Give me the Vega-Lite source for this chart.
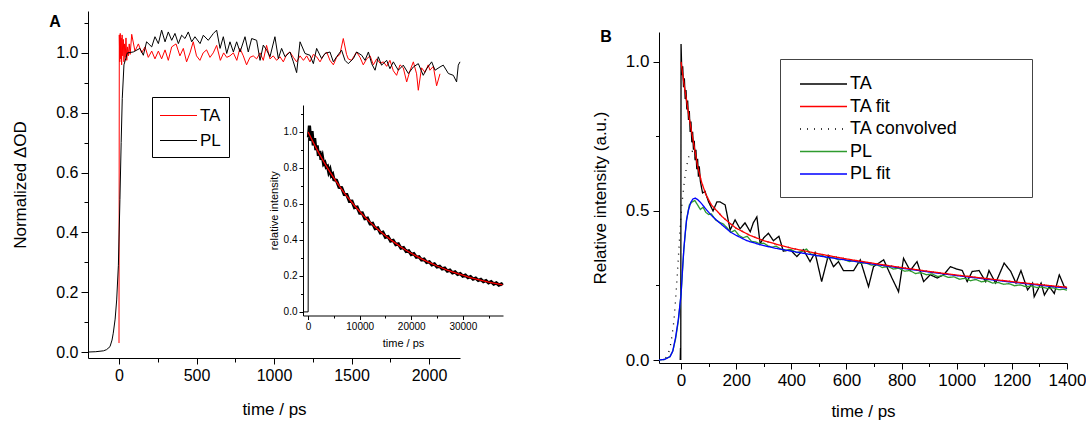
{
"$schema": "https://vega.github.io/schema/vega-lite/v6.json",
"width": 1086, "height": 421, "padding": 0, "autosize": {"type": "none"},
"background": "white",
"config": {
 "view": {"stroke": null},
 "font": "Liberation Sans",
 "axis": {"grid": false, "domainColor": "#000", "tickColor": "#000", "labelColor": "#000", "titleColor": "#000", "labelFont": "Liberation Sans", "titleFont": "Liberation Sans", "titleFontWeight": "normal", "labelOverlap": false, "labelFlush": false, "domainWidth": 1, "tickWidth": 1},
 "legend": {"labelFont": "Liberation Sans", "labelColor": "#000", "fillColor": "white"}
},
"datasets": {
 "pa": [
{"s":"TA","t":0,"v":0.03},{"s":"TA","t":2,"v":1.06},{"s":"TA","t":5,"v":0.97},{"s":"TA","t":8,"v":1.065},{"s":"TA","t":11,"v":0.98},{"s":"TA","t":14,"v":1.05},{"s":"TA","t":17,"v":0.96},{"s":"TA","t":20,"v":1.06},{"s":"TA","t":24,"v":0.99},{"s":"TA","t":28,"v":1.045},{"s":"TA","t":32,"v":0.97},{"s":"TA","t":36,"v":1.03},{"s":"TA","t":40,"v":0.985},{"s":"TA","t":45,"v":1.05},{"s":"TA","t":50,"v":0.975},{"s":"TA","t":55,"v":1.02},{"s":"TA","t":60,"v":0.99},{"s":"TA","t":66,"v":1.03},{"s":"TA","t":72,"v":0.995},{"s":"TA","t":82,"v":1.062},{"s":"TA","t":103,"v":1.006},{"s":"TA","t":125,"v":1.03},{"s":"TA","t":146,"v":1.0},{"s":"TA","t":168,"v":1.02},{"s":"TA","t":189,"v":0.985},{"s":"TA","t":211,"v":1.006},{"s":"TA","t":232,"v":0.98},{"s":"TA","t":254,"v":1.006},{"s":"TA","t":275,"v":0.98},{"s":"TA","t":297,"v":1.01},{"s":"TA","t":318,"v":0.975},{"s":"TA","t":340,"v":1.02},{"s":"TA","t":368,"v":1.03},{"s":"TA","t":393,"v":0.99},{"s":"TA","t":415,"v":1.015},{"s":"TA","t":436,"v":0.97},{"s":"TA","t":458,"v":1.0},{"s":"TA","t":479,"v":1.037},{"s":"TA","t":500,"v":0.99},{"s":"TA","t":522,"v":0.975},{"s":"TA","t":543,"v":1.0},{"s":"TA","t":565,"v":1.01},{"s":"TA","t":587,"v":0.985},{"s":"TA","t":608,"v":1.0},{"s":"TA","t":630,"v":1.025},{"s":"TA","t":654,"v":0.975},{"s":"TA","t":675,"v":1.0},{"s":"TA","t":695,"v":0.985},{"s":"TA","t":716,"v":0.99},{"s":"TA","t":738,"v":1.0},{"s":"TA","t":760,"v":0.975},{"s":"TA","t":780,"v":1.015},{"s":"TA","t":802,"v":0.99},{"s":"TA","t":823,"v":0.96},{"s":"TA","t":845,"v":0.985},{"s":"TA","t":866,"v":0.99},{"s":"TA","t":888,"v":0.98},{"s":"TA","t":910,"v":1.0},{"s":"TA","t":931,"v":0.975},{"s":"TA","t":952,"v":1.025},{"s":"TA","t":974,"v":0.98},{"s":"TA","t":995,"v":0.99},{"s":"TA","t":1017,"v":0.975},{"s":"TA","t":1039,"v":0.987},{"s":"TA","t":1060,"v":0.97},{"s":"TA","t":1082,"v":0.995},{"s":"TA","t":1103,"v":1.003},{"s":"TA","t":1125,"v":0.985},{"s":"TA","t":1146,"v":0.97},{"s":"TA","t":1168,"v":0.99},{"s":"TA","t":1190,"v":0.975},{"s":"TA","t":1211,"v":0.99},{"s":"TA","t":1232,"v":0.97},{"s":"TA","t":1254,"v":0.995},{"s":"TA","t":1275,"v":0.987},{"s":"TA","t":1297,"v":0.97},{"s":"TA","t":1318,"v":0.99},{"s":"TA","t":1340,"v":1.003},{"s":"TA","t":1361,"v":0.975},{"s":"TA","t":1383,"v":0.96},{"s":"TA","t":1404,"v":0.985},{"s":"TA","t":1425,"v":0.995},{"s":"TA","t":1447,"v":1.048},{"s":"TA","t":1468,"v":0.995},{"s":"TA","t":1479,"v":0.98},{"s":"TA","t":1500,"v":0.975},{"s":"TA","t":1533,"v":1.003},{"s":"TA","t":1555,"v":0.985},{"s":"TA","t":1576,"v":0.96},{"s":"TA","t":1598,"v":0.98},{"s":"TA","t":1620,"v":0.99},{"s":"TA","t":1641,"v":0.96},{"s":"TA","t":1663,"v":0.98},{"s":"TA","t":1685,"v":0.965},{"s":"TA","t":1706,"v":0.97},{"s":"TA","t":1727,"v":0.955},{"s":"TA","t":1748,"v":0.975},{"s":"TA","t":1770,"v":0.94},{"s":"TA","t":1791,"v":0.925},{"s":"TA","t":1813,"v":0.96},{"s":"TA","t":1834,"v":0.95},{"s":"TA","t":1856,"v":0.903},{"s":"TA","t":1877,"v":0.94},{"s":"TA","t":1899,"v":0.97},{"s":"TA","t":1920,"v":0.93},{"s":"TA","t":1931,"v":0.875},{"s":"TA","t":1952,"v":0.95},{"s":"TA","t":1974,"v":0.935},{"s":"TA","t":1995,"v":0.96},{"s":"TA","t":2006,"v":0.942},{"s":"TA","t":2028,"v":0.955},{"s":"TA","t":2049,"v":0.89},{"s":"TA","t":2071,"v":0.93},
{"s":"PL","t":-200,"v":0.0},{"s":"PL","t":-150,"v":0.001},{"s":"PL","t":-100,"v":0.004},{"s":"PL","t":-80,"v":0.008},{"s":"PL","t":-58,"v":0.018},{"s":"PL","t":-45,"v":0.04},{"s":"PL","t":-37,"v":0.063},{"s":"PL","t":-25,"v":0.11},{"s":"PL","t":-15,"v":0.174},{"s":"PL","t":-4,"v":0.29},{"s":"PL","t":6,"v":0.51},{"s":"PL","t":14,"v":0.7},{"s":"PL","t":21,"v":0.847},{"s":"PL","t":32,"v":0.96},{"s":"PL","t":54,"v":1.0},{"s":"PL","t":92,"v":1.003},{"s":"PL","t":135,"v":1.015},{"s":"PL","t":157,"v":0.992},{"s":"PL","t":178,"v":1.037},{"s":"PL","t":211,"v":1.02},{"s":"PL","t":232,"v":1.054},{"s":"PL","t":254,"v":1.031},{"s":"PL","t":275,"v":1.076},{"s":"PL","t":297,"v":1.037},{"s":"PL","t":318,"v":1.07},{"s":"PL","t":340,"v":1.042},{"s":"PL","t":361,"v":1.065},{"s":"PL","t":383,"v":1.031},{"s":"PL","t":404,"v":1.059},{"s":"PL","t":426,"v":1.048},{"s":"PL","t":447,"v":1.07},{"s":"PL","t":469,"v":1.037},{"s":"PL","t":490,"v":1.054},{"s":"PL","t":523,"v":1.031},{"s":"PL","t":544,"v":1.059},{"s":"PL","t":576,"v":1.042},{"s":"PL","t":609,"v":1.065},{"s":"PL","t":630,"v":1.076},{"s":"PL","t":652,"v":1.015},{"s":"PL","t":673,"v":1.054},{"s":"PL","t":695,"v":0.998},{"s":"PL","t":716,"v":1.037},{"s":"PL","t":738,"v":1.003},{"s":"PL","t":759,"v":1.037},{"s":"PL","t":781,"v":1.003},{"s":"PL","t":813,"v":1.054},{"s":"PL","t":834,"v":1.003},{"s":"PL","t":856,"v":1.048},{"s":"PL","t":888,"v":1.042},{"s":"PL","t":910,"v":0.975},{"s":"PL","t":931,"v":1.026},{"s":"PL","t":953,"v":1.009},{"s":"PL","t":974,"v":0.987},{"s":"PL","t":1006,"v":1.054},{"s":"PL","t":1028,"v":0.981},{"s":"PL","t":1049,"v":1.015},{"s":"PL","t":1071,"v":0.987},{"s":"PL","t":1103,"v":1.003},{"s":"PL","t":1125,"v":0.97},{"s":"PL","t":1146,"v":0.934},{"s":"PL","t":1168,"v":1.037},{"s":"PL","t":1200,"v":0.998},{"s":"PL","t":1232,"v":0.992},{"s":"PL","t":1254,"v":0.964},{"s":"PL","t":1275,"v":1.015},{"s":"PL","t":1307,"v":0.981},{"s":"PL","t":1329,"v":0.998},{"s":"PL","t":1361,"v":1.003},{"s":"PL","t":1383,"v":0.97},{"s":"PL","t":1404,"v":0.987},{"s":"PL","t":1436,"v":1.009},{"s":"PL","t":1458,"v":0.975},{"s":"PL","t":1479,"v":0.964},{"s":"PL","t":1512,"v":0.981},{"s":"PL","t":1533,"v":1.003},{"s":"PL","t":1566,"v":0.992},{"s":"PL","t":1587,"v":0.975},{"s":"PL","t":1609,"v":1.003},{"s":"PL","t":1630,"v":0.964},{"s":"PL","t":1652,"v":0.942},{"s":"PL","t":1673,"v":0.987},{"s":"PL","t":1694,"v":0.959},{"s":"PL","t":1727,"v":0.975},{"s":"PL","t":1748,"v":0.947},{"s":"PL","t":1770,"v":0.97},{"s":"PL","t":1802,"v":0.942},{"s":"PL","t":1834,"v":0.959},{"s":"PL","t":1867,"v":0.931},{"s":"PL","t":1899,"v":0.953},{"s":"PL","t":1931,"v":0.964},{"s":"PL","t":1963,"v":0.925},{"s":"PL","t":1985,"v":0.947},{"s":"PL","t":2017,"v":0.97},{"s":"PL","t":2039,"v":0.942},{"s":"PL","t":2071,"v":0.953},{"s":"PL","t":2092,"v":0.959},{"s":"PL","t":2125,"v":0.931},{"s":"PL","t":2157,"v":0.925},{"s":"PL","t":2178,"v":0.903},{"s":"PL","t":2189,"v":0.959},{"s":"PL","t":2200,"v":0.97}
 ],
 "irise": [{"t":-800,"v":0.0},{"t":0,"v":0.0},{"t":60,"v":0.97}],
 "inoisy": [
{"t":60,"v":0.97},{"t":250,"v":1.035},{"t":500,"v":0.95},{"t":750,"v":1.005},{"t":1000,"v":0.925},{"t":1250,"v":0.965},{"t":1500,"v":0.9},{"t":1750,"v":0.925},{"t":2000,"v":0.867},{"t":2250,"v":0.895},{"t":2500,"v":0.846},{"t":2750,"v":0.866},{"t":3000,"v":0.822},{"t":3250,"v":0.83},{"t":3500,"v":0.805},{"t":3750,"v":0.81},{"t":4000,"v":0.776},{"t":4250,"v":0.792},{"t":4500,"v":0.758},{"t":4750,"v":0.766},{"t":5000,"v":0.735},{"t":5500,"v":0.731},{"t":6000,"v":0.692},{"t":6500,"v":0.69},{"t":7000,"v":0.653},{"t":7500,"v":0.652},{"t":8000,"v":0.615},{"t":8500,"v":0.616},{"t":9000,"v":0.58},{"t":9500,"v":0.583},{"t":10000,"v":0.549},{"t":10500,"v":0.55},{"t":11000,"v":0.518},{"t":11500,"v":0.521},{"t":12000,"v":0.49},{"t":12500,"v":0.493},{"t":13000,"v":0.463},{"t":13500,"v":0.467},{"t":14000,"v":0.439},{"t":14500,"v":0.443},{"t":15000,"v":0.415},{"t":15500,"v":0.419},{"t":16000,"v":0.394},{"t":16500,"v":0.398},{"t":17000,"v":0.374},{"t":17500,"v":0.378},{"t":18000,"v":0.354},{"t":18500,"v":0.358},{"t":19000,"v":0.336},{"t":19500,"v":0.34},{"t":20000,"v":0.319},{"t":20500,"v":0.324},{"t":21000,"v":0.304},{"t":21500,"v":0.307},{"t":22000,"v":0.289},{"t":22500,"v":0.293},{"t":23000,"v":0.275},{"t":23500,"v":0.279},{"t":24000,"v":0.262},{"t":24500,"v":0.267},{"t":25000,"v":0.25},{"t":25500,"v":0.254},{"t":26000,"v":0.239},{"t":26500,"v":0.243},{"t":27000,"v":0.227},{"t":27500,"v":0.232},{"t":28000,"v":0.217},{"t":28500,"v":0.222},{"t":29000,"v":0.208},{"t":29500,"v":0.213},{"t":30000,"v":0.199},{"t":30500,"v":0.204},{"t":31000,"v":0.19},{"t":31500,"v":0.196},{"t":32000,"v":0.182},{"t":32500,"v":0.188},{"t":33000,"v":0.175},{"t":33500,"v":0.181},{"t":34000,"v":0.168},{"t":34500,"v":0.174},{"t":35000,"v":0.161},{"t":35500,"v":0.168},{"t":36000,"v":0.155},{"t":36500,"v":0.161},{"t":37000,"v":0.149},{"t":37500,"v":0.155},{"t":37700,"v":0.148}
 ],
 "ifit": [
{"t":0,"v":1.0},{"t":1000,"v":0.942},{"t":2000,"v":0.887},{"t":3000,"v":0.836},{"t":4000,"v":0.788},{"t":5000,"v":0.744},{"t":6000,"v":0.702},{"t":7000,"v":0.662},{"t":8000,"v":0.625},{"t":9000,"v":0.59},{"t":10000,"v":0.558},{"t":11000,"v":0.527},{"t":12000,"v":0.499},{"t":13000,"v":0.472},{"t":14000,"v":0.447},{"t":15000,"v":0.423},{"t":16000,"v":0.401},{"t":17000,"v":0.381},{"t":18000,"v":0.361},{"t":19000,"v":0.343},{"t":20000,"v":0.326},{"t":21000,"v":0.31},{"t":22000,"v":0.295},{"t":23000,"v":0.281},{"t":24000,"v":0.268},{"t":25000,"v":0.255},{"t":26000,"v":0.244},{"t":27000,"v":0.232},{"t":28000,"v":0.222},{"t":29000,"v":0.213},{"t":30000,"v":0.204},{"t":31000,"v":0.195},{"t":32000,"v":0.187},{"t":33000,"v":0.18},{"t":34000,"v":0.173},{"t":35000,"v":0.166},{"t":36000,"v":0.16},{"t":37000,"v":0.154},{"t":37700,"v":0.15}
 ],
 "pb": [
{"s":"TA","t":-3,"v":0.0},{"s":"TA","t":-2,"v":0.04},{"s":"TA","t":-1,"v":0.0},{"s":"TA","t":0,"v":1.06},{"s":"TA","t":3,"v":0.955},{"s":"TA","t":6,"v":0.985},{"s":"TA","t":9,"v":0.915},{"s":"TA","t":12,"v":0.945},{"s":"TA","t":15,"v":0.875},{"s":"TA","t":18,"v":0.905},{"s":"TA","t":21,"v":0.84},{"s":"TA","t":24,"v":0.87},{"s":"TA","t":27,"v":0.805},{"s":"TA","t":30,"v":0.835},{"s":"TA","t":33,"v":0.765},{"s":"TA","t":36,"v":0.8},{"s":"TA","t":39,"v":0.73},{"s":"TA","t":42,"v":0.765},{"s":"TA","t":45,"v":0.705},{"s":"TA","t":48,"v":0.735},{"s":"TA","t":51,"v":0.67},{"s":"TA","t":54,"v":0.705},{"s":"TA","t":57,"v":0.64},{"s":"TA","t":60,"v":0.675},{"s":"TA","t":63,"v":0.615},{"s":"TA","t":66,"v":0.65},{"s":"TA","t":70,"v":0.6},{"s":"TA","t":78,"v":0.56},{"s":"TA","t":87,"v":0.565},{"s":"TA","t":100,"v":0.53},{"s":"TA","t":116,"v":0.5},{"s":"TA","t":130,"v":0.53},{"s":"TA","t":142,"v":0.53},{"s":"TA","t":160,"v":0.52},{"s":"TA","t":178,"v":0.436},{"s":"TA","t":196,"v":0.47},{"s":"TA","t":214,"v":0.44},{"s":"TA","t":232,"v":0.46},{"s":"TA","t":251,"v":0.43},{"s":"TA","t":262,"v":0.46},{"s":"TA","t":275,"v":0.48},{"s":"TA","t":287,"v":0.39},{"s":"TA","t":300,"v":0.41},{"s":"TA","t":317,"v":0.425},{"s":"TA","t":335,"v":0.4},{"s":"TA","t":355,"v":0.415},{"s":"TA","t":371,"v":0.365},{"s":"TA","t":396,"v":0.37},{"s":"TA","t":420,"v":0.347},{"s":"TA","t":444,"v":0.37},{"s":"TA","t":468,"v":0.33},{"s":"TA","t":486,"v":0.36},{"s":"TA","t":510,"v":0.263},{"s":"TA","t":534,"v":0.35},{"s":"TA","t":553,"v":0.313},{"s":"TA","t":571,"v":0.33},{"s":"TA","t":589,"v":0.3},{"s":"TA","t":626,"v":0.3},{"s":"TA","t":650,"v":0.336},{"s":"TA","t":680,"v":0.246},{"s":"TA","t":698,"v":0.313},{"s":"TA","t":735,"v":0.336},{"s":"TA","t":765,"v":0.275},{"s":"TA","t":789,"v":0.229},{"s":"TA","t":807,"v":0.341},{"s":"TA","t":831,"v":0.3},{"s":"TA","t":856,"v":0.33},{"s":"TA","t":880,"v":0.263},{"s":"TA","t":904,"v":0.286},{"s":"TA","t":929,"v":0.275},{"s":"TA","t":953,"v":0.286},{"s":"TA","t":977,"v":0.313},{"s":"TA","t":1000,"v":0.305},{"s":"TA","t":1020,"v":0.3},{"s":"TA","t":1038,"v":0.263},{"s":"TA","t":1056,"v":0.297},{"s":"TA","t":1081,"v":0.3},{"s":"TA","t":1105,"v":0.263},{"s":"TA","t":1117,"v":0.3},{"s":"TA","t":1141,"v":0.258},{"s":"TA","t":1172,"v":0.325},{"s":"TA","t":1196,"v":0.297},{"s":"TA","t":1215,"v":0.258},{"s":"TA","t":1233,"v":0.3},{"s":"TA","t":1257,"v":0.235},{"s":"TA","t":1275,"v":0.258},{"s":"TA","t":1281,"v":0.212},{"s":"TA","t":1306,"v":0.258},{"s":"TA","t":1318,"v":0.218},{"s":"TA","t":1336,"v":0.246},{"s":"TA","t":1354,"v":0.223},{"s":"TA","t":1372,"v":0.286},{"s":"TA","t":1390,"v":0.246},{"s":"TA","t":1400,"v":0.24},
{"s":"TA convolved","t":-80,"v":0.0},{"s":"TA convolved","t":-60,"v":0.004},{"s":"TA convolved","t":-50,"v":0.012},{"s":"TA convolved","t":-40,"v":0.04},{"s":"TA convolved","t":-33,"v":0.08},{"s":"TA convolved","t":-26,"v":0.13},{"s":"TA convolved","t":-20,"v":0.2},{"s":"TA convolved","t":-14,"v":0.28},{"s":"TA convolved","t":-8,"v":0.37},{"s":"TA convolved","t":-2,"v":0.46},{"s":"TA convolved","t":4,"v":0.53},{"s":"TA convolved","t":12,"v":0.6},{"s":"TA convolved","t":20,"v":0.65},{"s":"TA convolved","t":30,"v":0.69},{"s":"TA convolved","t":40,"v":0.7},{"s":"TA convolved","t":50,"v":0.685},{"s":"TA convolved","t":60,"v":0.645},{"s":"TA convolved","t":75,"v":0.595},{"s":"TA convolved","t":90,"v":0.555},{"s":"TA convolved","t":110,"v":0.518},{"s":"TA convolved","t":130,"v":0.5},{"s":"TA convolved","t":150,"v":0.48},{"s":"TA convolved","t":175,"v":0.46},{"s":"TA convolved","t":200,"v":0.442},{"s":"TA convolved","t":250,"v":0.418},{"s":"TA convolved","t":300,"v":0.4},{"s":"TA convolved","t":400,"v":0.375},{"s":"TA convolved","t":500,"v":0.356},{"s":"TA convolved","t":600,"v":0.339},{"s":"TA convolved","t":700,"v":0.324},{"s":"TA convolved","t":800,"v":0.31},{"s":"TA convolved","t":900,"v":0.297},{"s":"TA convolved","t":1000,"v":0.285},{"s":"TA convolved","t":1100,"v":0.274},{"s":"TA convolved","t":1200,"v":0.263},{"s":"TA convolved","t":1300,"v":0.253},{"s":"TA convolved","t":1400,"v":0.244},
{"s":"PL","t":-80,"v":0.0},{"s":"PL","t":-60,"v":0.002},{"s":"PL","t":-40,"v":0.012},{"s":"PL","t":-30,"v":0.03},{"s":"PL","t":-20,"v":0.07},{"s":"PL","t":-10,"v":0.13},{"s":"PL","t":0,"v":0.22},{"s":"PL","t":10,"v":0.37},{"s":"PL","t":20,"v":0.47},{"s":"PL","t":30,"v":0.52},{"s":"PL","t":40,"v":0.53},{"s":"PL","t":50,"v":0.535},{"s":"PL","t":60,"v":0.52},{"s":"PL","t":70,"v":0.505},{"s":"PL","t":80,"v":0.512},{"s":"PL","t":90,"v":0.495},{"s":"PL","t":100,"v":0.488},{"s":"PL","t":110,"v":0.49},{"s":"PL","t":125,"v":0.47},{"s":"PL","t":140,"v":0.462},{"s":"PL","t":155,"v":0.455},{"s":"PL","t":170,"v":0.44},{"s":"PL","t":180,"v":0.428},{"s":"PL","t":195,"v":0.435},{"s":"PL","t":210,"v":0.418},{"s":"PL","t":225,"v":0.41},{"s":"PL","t":240,"v":0.415},{"s":"PL","t":255,"v":0.398},{"s":"PL","t":270,"v":0.396},{"s":"PL","t":285,"v":0.39},{"s":"PL","t":300,"v":0.392},{"s":"PL","t":315,"v":0.383},{"s":"PL","t":330,"v":0.378},{"s":"PL","t":345,"v":0.382},{"s":"PL","t":360,"v":0.373},{"s":"PL","t":380,"v":0.368},{"s":"PL","t":400,"v":0.37},{"s":"PL","t":420,"v":0.36},{"s":"PL","t":440,"v":0.365},{"s":"PL","t":455,"v":0.372},{"s":"PL","t":470,"v":0.356},{"s":"PL","t":490,"v":0.35},{"s":"PL","t":510,"v":0.352},{"s":"PL","t":530,"v":0.342},{"s":"PL","t":550,"v":0.345},{"s":"PL","t":570,"v":0.336},{"s":"PL","t":590,"v":0.338},{"s":"PL","t":610,"v":0.33},{"s":"PL","t":630,"v":0.334},{"s":"PL","t":650,"v":0.324},{"s":"PL","t":670,"v":0.326},{"s":"PL","t":690,"v":0.318},{"s":"PL","t":710,"v":0.32},{"s":"PL","t":730,"v":0.31},{"s":"PL","t":750,"v":0.314},{"s":"PL","t":770,"v":0.305},{"s":"PL","t":790,"v":0.308},{"s":"PL","t":810,"v":0.298},{"s":"PL","t":830,"v":0.3},{"s":"PL","t":850,"v":0.29},{"s":"PL","t":870,"v":0.293},{"s":"PL","t":890,"v":0.286},{"s":"PL","t":910,"v":0.289},{"s":"PL","t":930,"v":0.28},{"s":"PL","t":950,"v":0.284},{"s":"PL","t":970,"v":0.277},{"s":"PL","t":990,"v":0.279},{"s":"PL","t":1010,"v":0.271},{"s":"PL","t":1030,"v":0.274},{"s":"PL","t":1050,"v":0.266},{"s":"PL","t":1070,"v":0.27},{"s":"PL","t":1090,"v":0.262},{"s":"PL","t":1110,"v":0.266},{"s":"PL","t":1130,"v":0.258},{"s":"PL","t":1150,"v":0.26},{"s":"PL","t":1170,"v":0.254},{"s":"PL","t":1190,"v":0.256},{"s":"PL","t":1210,"v":0.249},{"s":"PL","t":1230,"v":0.252},{"s":"PL","t":1250,"v":0.246},{"s":"PL","t":1270,"v":0.248},{"s":"PL","t":1290,"v":0.243},{"s":"PL","t":1310,"v":0.245},{"s":"PL","t":1330,"v":0.24},{"s":"PL","t":1350,"v":0.242},{"s":"PL","t":1370,"v":0.236},{"s":"PL","t":1390,"v":0.237},{"s":"PL","t":1400,"v":0.234},
{"s":"PL fit","t":-80,"v":0.0},{"s":"PL fit","t":-60,"v":0.002},{"s":"PL fit","t":-40,"v":0.011},{"s":"PL fit","t":-30,"v":0.03},{"s":"PL fit","t":-20,"v":0.075},{"s":"PL fit","t":-10,"v":0.135},{"s":"PL fit","t":0,"v":0.22},{"s":"PL fit","t":5,"v":0.3},{"s":"PL fit","t":10,"v":0.37},{"s":"PL fit","t":15,"v":0.425},{"s":"PL fit","t":20,"v":0.47},{"s":"PL fit","t":27,"v":0.503},{"s":"PL fit","t":35,"v":0.528},{"s":"PL fit","t":43,"v":0.54},{"s":"PL fit","t":51,"v":0.543},{"s":"PL fit","t":60,"v":0.538},{"s":"PL fit","t":69,"v":0.53},{"s":"PL fit","t":80,"v":0.518},{"s":"PL fit","t":93,"v":0.503},{"s":"PL fit","t":110,"v":0.485},{"s":"PL fit","t":130,"v":0.468},{"s":"PL fit","t":150,"v":0.452},{"s":"PL fit","t":178,"v":0.43},{"s":"PL fit","t":200,"v":0.418},{"s":"PL fit","t":239,"v":0.4},{"s":"PL fit","t":290,"v":0.386},{"s":"PL fit","t":336,"v":0.376},{"s":"PL fit","t":400,"v":0.365},{"s":"PL fit","t":493,"v":0.35},{"s":"PL fit","t":600,"v":0.335},{"s":"PL fit","t":700,"v":0.321},{"s":"PL fit","t":800,"v":0.308},{"s":"PL fit","t":900,"v":0.295},{"s":"PL fit","t":1000,"v":0.283},{"s":"PL fit","t":1100,"v":0.272},{"s":"PL fit","t":1200,"v":0.261},{"s":"PL fit","t":1300,"v":0.251},{"s":"PL fit","t":1400,"v":0.241},
{"s":"TA fit","t":0,"v":1.0},{"s":"TA fit","t":10,"v":0.93},{"s":"TA fit","t":20,"v":0.87},{"s":"TA fit","t":30,"v":0.81},{"s":"TA fit","t":45,"v":0.73},{"s":"TA fit","t":60,"v":0.65},{"s":"TA fit","t":75,"v":0.595},{"s":"TA fit","t":90,"v":0.555},{"s":"TA fit","t":110,"v":0.52},{"s":"TA fit","t":130,"v":0.5},{"s":"TA fit","t":150,"v":0.48},{"s":"TA fit","t":175,"v":0.46},{"s":"TA fit","t":200,"v":0.442},{"s":"TA fit","t":250,"v":0.418},{"s":"TA fit","t":300,"v":0.4},{"s":"TA fit","t":400,"v":0.375},{"s":"TA fit","t":500,"v":0.356},{"s":"TA fit","t":600,"v":0.339},{"s":"TA fit","t":700,"v":0.324},{"s":"TA fit","t":800,"v":0.31},{"s":"TA fit","t":900,"v":0.297},{"s":"TA fit","t":1000,"v":0.285},{"s":"TA fit","t":1100,"v":0.274},{"s":"TA fit","t":1200,"v":0.263},{"s":"TA fit","t":1300,"v":0.253},{"s":"TA fit","t":1400,"v":0.244}
 ]
},
"layer": [
 {
  "data": {"name": "pa"},
  "mark": {"type": "line", "strokeWidth": 1},
  "encoding": {
   "x": {"field": "t", "type": "quantitative",
    "scale": {"domain": [-200, 2200], "range": [88, 460], "nice": false, "zero": false},
    "axis": {"title": "time / ps", "orient": "bottom", "offset": -63,
     "values": [0,250,500,750,1000,1250,1500,1750,2000], "format": "d",
     "labelExpr": "datum.value % 500 == 0 ? datum.label : ''",
     "tickSize": {"condition": {"test": "datum.value % 500 == 0", "value": 6}, "value": 4},
     "labelFontSize": 16, "titleFontSize": 17, "titleFontWeight": "normal", "labelPadding": 3, "titlePadding": 18}},
   "y": {"field": "v", "type": "quantitative",
    "scale": {"domain": [-0.02, 1.14], "range": [358, 11], "nice": false, "zero": false},
    "axis": {"title": "Normalized ΔOD", "orient": "left", "offset": -88,
     "values": [0,0.1,0.2,0.3,0.4,0.5,0.6,0.7,0.8,0.9,1.0,1.1], "format": ".1f",
     "labelExpr": "round(datum.value*10) % 2 == 0 ? datum.label : ''",
     "tickSize": {"condition": {"test": "round(datum.value*10) % 2 == 0", "value": 7}, "value": 4},
     "labelFontSize": 16, "titleFontSize": 17, "titleFontWeight": "normal", "labelPadding": 3, "titlePadding": 26}},
   "color": {"field": "s", "type": "nominal",
    "scale": {"domain": ["TA", "PL"], "range": ["#ff0000", "#000000"]},
    "legend": {"title": null, "orient": "none", "legendX": 152, "legendY": 97,
     "symbolType": "M-1.85,0H1.85", "symbolSize": 400, "symbolStrokeWidth": 1,
     "symbolOffset": 8, "labelOffset": 11, "labelFontSize": 17, "padding": 8, "rowPadding": 6,
     "strokeColor": "#000"}}
  }
 },
 {
  "data": {"values": [{}]},
  "mark": {"type": "text", "fontWeight": "bold", "fontSize": 16, "font": "Liberation Sans", "align": "center", "baseline": "middle", "color": "#000"},
  "encoding": {
   "x": {"datum": -413, "type": "quantitative", "axis": null, "scale": {"domain": [-200, 2200], "range": [88, 460], "nice": false, "zero": false}},
   "y": {"datum": 1.103, "type": "quantitative", "axis": null, "scale": {"domain": [-0.02, 1.14], "range": [358, 11], "nice": false, "zero": false}},
   "text": {"value": "A"}
  }
 },
 {
  "data": {"name": "inoisy"},
  "mark": {"type": "line", "color": "#000", "strokeWidth": 3.2},
  "encoding": {
   "x": {"field": "t", "type": "quantitative",
    "scale": {"domain": [-1000, 37800], "range": [303, 503], "nice": false, "zero": false},
    "axis": {"title": "time / ps", "orient": "bottom", "offset": -105.5,
     "values": [0,5000,10000,15000,20000,25000,30000,35000], "format": "d",
     "labelExpr": "datum.value % 10000 == 0 ? datum.label : ''",
     "tickSize": {"condition": {"test": "datum.value % 10000 == 0", "value": 4}, "value": 2.5},
     "labelFontSize": 10, "titleFontSize": 11, "titleFontWeight": "normal", "labelPadding": 2, "titlePadding": 6}},
   "y": {"field": "v", "type": "quantitative",
    "scale": {"domain": [-0.02, 1.15], "range": [315.5, 105], "nice": false, "zero": false},
    "axis": {"title": "relative intensity", "orient": "left", "offset": -303,
     "values": [0,0.1,0.2,0.3,0.4,0.5,0.6,0.7,0.8,0.9,1.0,1.1], "format": ".1f",
     "labelExpr": "round(datum.value*10) % 2 == 0 ? datum.label : ''",
     "tickSize": {"condition": {"test": "round(datum.value*10) % 2 == 0", "value": 4}, "value": 2.5},
     "labelFontSize": 10, "titleFontSize": 11, "titleFontWeight": "normal", "labelPadding": 2, "titlePadding": 4}}
  }
 },
 {
  "data": {"name": "irise"},
  "mark": {"type": "line", "color": "#000", "strokeWidth": 1},
  "encoding": {
   "x": {"field": "t", "type": "quantitative", "axis": null, "scale": {"domain": [-1000, 37800], "range": [303, 503], "nice": false, "zero": false}},
   "y": {"field": "v", "type": "quantitative", "axis": null, "scale": {"domain": [-0.02, 1.15], "range": [315.5, 105], "nice": false, "zero": false}}
  }
 },
 {
  "data": {"name": "ifit"},
  "mark": {"type": "line", "color": "#ff0000", "strokeWidth": 1.3},
  "encoding": {
   "x": {"field": "t", "type": "quantitative", "axis": null, "scale": {"domain": [-1000, 37800], "range": [303, 503], "nice": false, "zero": false}},
   "y": {"field": "v", "type": "quantitative", "axis": null, "scale": {"domain": [-0.02, 1.15], "range": [315.5, 105], "nice": false, "zero": false}}
  }
 },
 {
  "data": {"name": "pb"},
  "mark": {"type": "line", "strokeWidth": 1.3},
  "encoding": {
   "x": {"field": "t", "type": "quantitative",
    "scale": {"domain": [-80, 1400], "range": [659, 1067], "nice": false, "zero": false},
    "axis": {"title": "time / ps", "orient": "bottom", "offset": -58,
     "values": [0,100,200,300,400,500,600,700,800,900,1000,1100,1200,1300,1400], "format": "d",
     "labelExpr": "datum.value % 200 == 0 ? datum.label : ''",
     "tickSize": {"condition": {"test": "datum.value % 200 == 0", "value": 6}, "value": 3.5},
     "labelFontSize": 17, "titleFontSize": 17, "titleFontWeight": "normal", "labelPadding": 3, "titlePadding": 15}},
   "y": {"field": "v", "type": "quantitative",
    "scale": {"domain": [-0.01, 1.1], "range": [363, 32], "nice": false, "zero": false},
    "axis": {"title": "Relative intensity (a.u.)", "orient": "left", "offset": -659,
     "values": [0,0.25,0.5,0.75,1.0], "format": ".1f",
     "labelExpr": "round(datum.value*4) % 2 == 0 ? datum.label : ''",
     "tickSize": {"condition": {"test": "round(datum.value*4) % 2 == 0", "value": 6}, "value": 3.5},
     "labelFontSize": 17, "titleFontSize": 17, "titleFontWeight": "normal", "labelPadding": 4, "titlePadding": 16}},
   "color": {"field": "s", "type": "nominal",
    "scale": {"domain": ["TA", "TA fit", "TA convolved", "PL", "PL fit"], "range": ["#000000", "#ff0000", "#000000", "#2e9b2e", "#0000ff"]},
    "legend": {"title": null, "orient": "none", "legendX": 780, "legendY": 59,
     "symbolType": "M-2.35,0H2.35", "symbolSize": 400, "symbolStrokeWidth": 1.5,
     "symbolOffset": 18.5, "labelOffset": 15.5, "labelFontSize": 18, "padding": 14, "rowPadding": 2.5,
     "strokeColor": "#444", "labelLimit": 400,
     "labelExpr": "datum.label == 'TA convolved' ? 'TA convolved\u00a0\u00a0\u00a0\u00a0\u00a0\u00a0\u00a0\u00a0\u00a0\u00a0\u00a0\u00a0\u200d' : datum.label"}},
   "strokeDash": {"field": "s", "type": "nominal",
    "scale": {"domain": ["TA", "TA fit", "TA convolved", "PL", "PL fit"], "range": [[1,0],[1,0],[1,6],[1,0],[1,0]]},
    "legend": {"title": null, "orient": "none", "legendX": 780, "legendY": 59,
     "symbolType": "M-2.35,0H2.35", "symbolSize": 400, "symbolStrokeWidth": 1.5,
     "symbolOffset": 18.5, "labelOffset": 15.5, "labelFontSize": 18, "padding": 14, "rowPadding": 2.5,
     "strokeColor": "#444", "labelLimit": 400,
     "labelExpr": "datum.label == 'TA convolved' ? 'TA convolved\u00a0\u00a0\u00a0\u00a0\u00a0\u00a0\u00a0\u00a0\u00a0\u00a0\u00a0\u00a0\u200d' : datum.label"}}
  }
 },
 {
  "data": {"values": [{}]},
  "mark": {"type": "text", "fontWeight": "bold", "fontSize": 16, "font": "Liberation Sans", "align": "center", "baseline": "middle", "color": "#000"},
  "encoding": {
   "x": {"datum": -272, "type": "quantitative", "axis": null, "scale": {"domain": [-80, 1400], "range": [659, 1067], "nice": false, "zero": false}},
   "y": {"datum": 1.083, "type": "quantitative", "axis": null, "scale": {"domain": [-0.01, 1.1], "range": [363, 32], "nice": false, "zero": false}},
   "text": {"value": "B"}
  }
 }
],
"resolve": {
 "scale": {"x": "independent", "y": "independent", "color": "independent", "strokeDash": "independent"},
 "axis": {"x": "independent", "y": "independent"},
 "legend": {"color": "independent", "strokeDash": "independent"}
}
}
